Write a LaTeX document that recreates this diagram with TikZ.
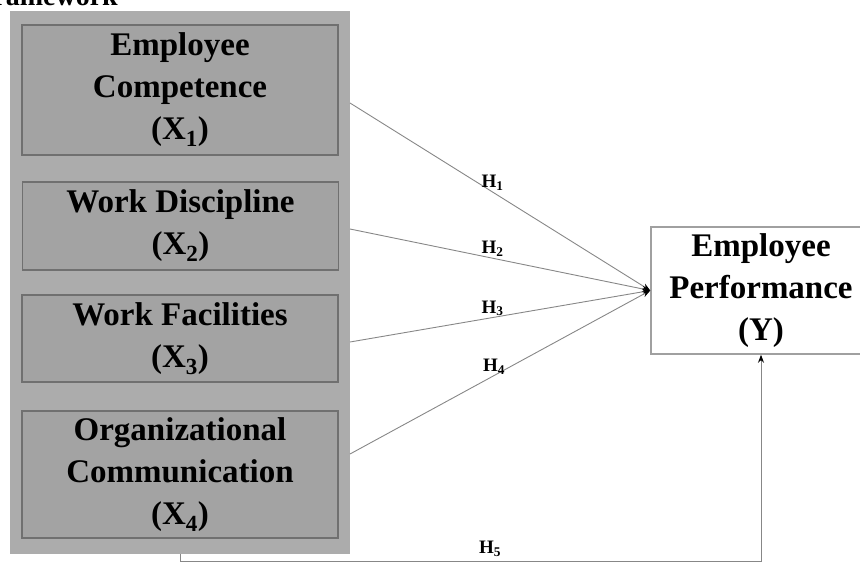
\documentclass[tikz,border=0pt]{standalone}
\usepackage{fontspec}
\setmainfont{Liberation Serif}
\usetikzlibrary{arrows.meta}

\definecolor{panelgray}{RGB}{172,172,172}
\definecolor{boxgray}{RGB}{163,163,163}
\definecolor{boxedge}{RGB}{112,112,112}
\definecolor{linkgray}{RGB}{135,135,135}
\definecolor{ybox}{RGB}{160,160,160}

\begin{document}
\begin{tikzpicture}[x=1pt,y=-1pt,
  varbox/.style={draw=boxedge,line width=1.2pt,fill=boxgray,minimum width=316pt,
    align=center,inner sep=0pt,font=\fontsize{33}{42}\selectfont\bfseries},
  outbox/.style={draw=ybox,line width=1.5pt,fill=white,minimum width=220pt,minimum height=127pt,
    align=center,inner sep=0pt,font=\fontsize{33}{42}\selectfont\bfseries},
  link/.style={draw=linkgray,line width=0.9pt,-{Stealth[length=8pt,width=6pt,black]}},
  hyp/.style={font=\fontsize{19}{19}\selectfont\bfseries,inner sep=1pt}]
\useasboundingbox (0,0) rectangle (860,563);
\node[anchor=base east,font=\fontsize{28}{28}\selectfont\bfseries,inner sep=0pt] at (118,5) (title) {Framework};
\node[fill=panelgray,minimum width=340pt,minimum height=543pt,inner sep=0pt] at (180,282.5) (panel) {};
\node[varbox,minimum height=130pt] at (180,90) (x1) {Employee\\Competence\\(X\textsubscript{1})};
\node[varbox,minimum height=88pt] at (180.5,226) (x2) {Work Discipline\\(X\textsubscript{2})};
\node[varbox,minimum height=87pt] at (180,338.5) (x3) {Work Facilities\\(X\textsubscript{3})};
\node[varbox,minimum height=127pt] at (180,474.5) (x4) {Organizational\\Communication\\(X\textsubscript{4})};
\node[outbox] at (761,290.5) (y) {Employee\\Performance\\(Y)};
\coordinate (s1) at (350,103);
\coordinate (s2) at (350,229);
\coordinate (s3) at (350,342);
\coordinate (s4) at (350,454);
\coordinate (s5) at (180,554);
\coordinate (c5) at (180,561.5);
\draw[link] (s1) -- node[hyp,pos=0.475,above] (h1) {H\textsubscript{1}} (y.west);
\draw[link] (s2) -- node[hyp,pos=0.475,above] (h2) {H\textsubscript{2}} (y.west);
\draw[link] (s3) -- node[hyp,pos=0.475,above] (h3) {H\textsubscript{3}} (y.west);
\draw[link] (s4) -- node[hyp,pos=0.48,above] (h4) {H\textsubscript{4}} (y.west);
\draw[link] (s5) -- (c5) -| (y.south);
\node[hyp] at (490,549) (h5) {H\textsubscript{5}};
\end{tikzpicture}
\end{document}
